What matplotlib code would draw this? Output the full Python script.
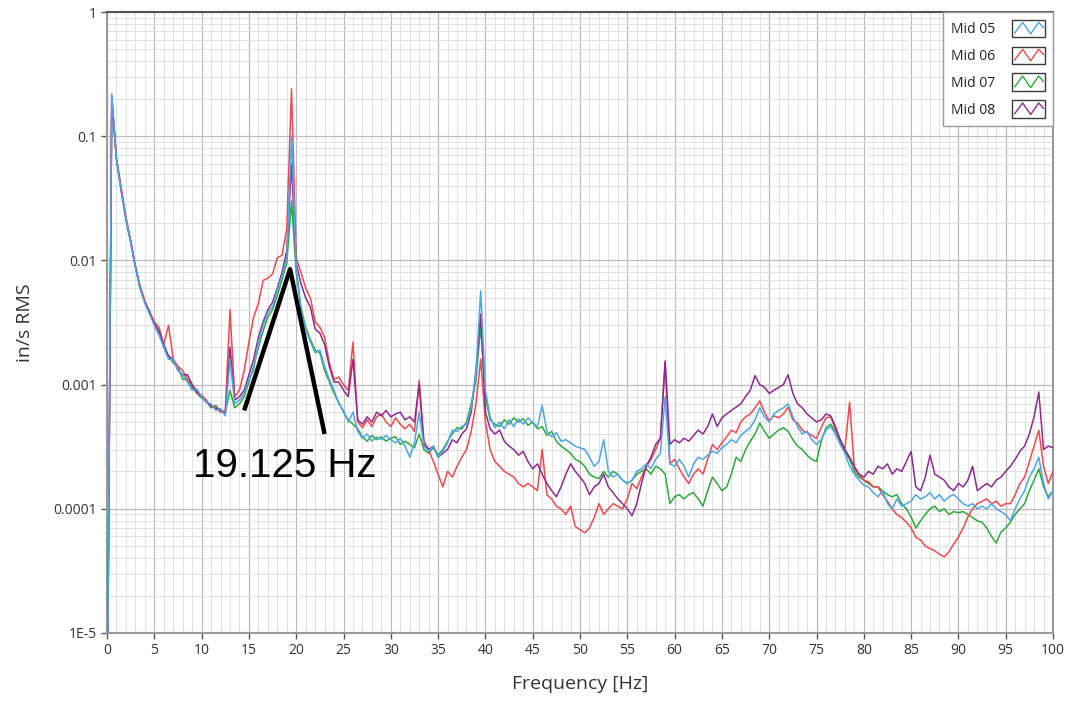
import numpy as np
import matplotlib
matplotlib.use("Agg")
import matplotlib.pyplot as plt
from matplotlib.legend_handler import HandlerBase
from matplotlib.patches import Rectangle
from matplotlib.lines import Line2D
from matplotlib.ticker import MultipleLocator, LogLocator, NullFormatter

# spectrum sampled every 0.5 Hz, 0..100 Hz
freq = np.arange(0, 100.5, 0.5)

mid05 = [
    1e-6, 0.22, 0.065, 0.036, 0.022, 0.014, 0.0088, 0.0060, 0.0045, 0.0037,
    0.0030, 0.0025, 0.0020, 0.0016, 0.0016, 0.0013, 0.0012, 0.00105, 0.0009, 0.00092,
    0.0008, 0.00072, 0.0007, 0.00062, 0.00064, 0.00056, 0.0016, 0.0007, 0.00075, 0.00085,
    0.0011, 0.0013, 0.0022, 0.0030, 0.0038, 0.0042, 0.0058, 0.0075, 0.0105, 0.10,
    0.009, 0.004, 0.0028, 0.0022, 0.0018, 0.0019, 0.0014, 0.0011, 0.0009, 0.0007,
    0.00062, 0.0005, 0.0006, 0.00042, 0.00037, 0.0004, 0.00035, 0.00038, 0.00036, 0.00039,
    0.00036, 0.00034, 0.00037, 0.00032, 0.00026, 0.00034, 0.0006, 0.00032, 0.00029, 0.00032,
    0.00026, 0.00029, 0.00034, 0.00043, 0.00042, 0.00046, 0.00048, 0.00065, 0.0012, 0.0057,
    0.0009, 0.00055, 0.00045, 0.0005, 0.00044, 0.00052, 0.00046, 0.00053, 0.00048, 0.00054,
    0.00049, 0.00046, 0.00068, 0.00042, 0.00038, 0.00041, 0.00035, 0.00036, 0.00034, 0.00032,
    0.00031, 0.0003, 0.00026, 0.00022, 0.00024, 0.00036, 0.0002, 0.00018, 0.00019, 0.00017,
    0.00016, 0.00017, 0.0002, 0.00021, 0.00023, 0.00021, 0.00025, 0.00028, 0.0008, 0.00023,
    0.00022, 0.00025, 0.00022, 0.00018, 0.00023, 0.00026, 0.00025, 0.00027, 0.00029, 0.00028,
    0.00031, 0.00033, 0.00036, 0.00034, 0.00039, 0.00042, 0.00045, 0.00052, 0.00065, 0.00055,
    0.0005, 0.00058, 0.00062, 0.00065, 0.0007, 0.00055, 0.00046, 0.0004, 0.00042, 0.00036,
    0.00033, 0.00036, 0.00043, 0.00046, 0.0004, 0.00033, 0.00028, 0.00022, 0.00019, 0.00017,
    0.000155, 0.00015, 0.000135, 0.000125, 0.00014, 0.00011, 0.0001, 0.00012, 0.000105, 0.00011,
    0.000115, 0.00013, 0.00012, 0.000125, 0.000135, 0.00012, 0.00013, 0.000115, 0.000125, 0.00013,
    0.00012, 0.00011, 0.000105, 0.00011, 0.0001, 0.000105, 0.0001, 0.00011, 0.0001, 0.000095,
    0.00009, 0.00008, 0.0001, 0.00012, 0.00014, 0.00018, 0.00021, 0.00026, 0.00016, 0.00012,
    0.00014,
]

mid06 = [
    1e-6, 0.2, 0.066, 0.038, 0.022, 0.0145, 0.009, 0.0062, 0.0047, 0.0038,
    0.0032, 0.0029, 0.0021, 0.003, 0.0016, 0.0014, 0.0013, 0.0011, 0.001, 0.00085,
    0.00082, 0.00075, 0.00066, 0.00066, 0.0006, 0.00062, 0.004, 0.0008, 0.0009, 0.0013,
    0.0022, 0.0035, 0.0045, 0.0069, 0.0072, 0.0078, 0.0105, 0.011, 0.018, 0.24,
    0.0105, 0.008, 0.006, 0.005, 0.0032, 0.0029, 0.0024, 0.0015, 0.0011, 0.00115,
    0.001, 0.0009, 0.0022, 0.0005, 0.00045, 0.00052, 0.00046, 0.00055, 0.00058, 0.0005,
    0.00046, 0.00054, 0.00048, 0.00044, 0.00048, 0.00042, 0.00108, 0.00035, 0.0003, 0.00024,
    0.00019, 0.00015, 0.0002, 0.00018, 0.00022, 0.00026, 0.0003, 0.00042, 0.0007, 0.0016,
    0.0005, 0.0003, 0.00024, 0.00022, 0.0002, 0.00019, 0.00018, 0.00016, 0.00015, 0.00016,
    0.00015, 0.00014, 0.0003, 0.00013, 0.00012, 0.000105, 0.0001, 0.00009, 0.000105, 0.000072,
    0.000068, 0.000064, 0.00007, 0.000085, 0.00011, 0.00009, 0.0001, 0.00011, 0.000105, 0.0001,
    0.00012, 0.00016, 0.000145, 0.00018, 0.00022, 0.00025, 0.0003, 0.00037, 0.0015, 0.00023,
    0.00025, 0.00021, 0.00018, 0.00016, 0.00019, 0.00021, 0.00019, 0.00025, 0.00033, 0.0003,
    0.00034, 0.00038, 0.00043, 0.00041, 0.0005, 0.00055, 0.00058, 0.00065, 0.00074, 0.0006,
    0.00051, 0.00056, 0.00054, 0.00058, 0.00066, 0.00052, 0.00049, 0.00043, 0.00041, 0.00039,
    0.00037, 0.00045, 0.00054, 0.00055, 0.00044, 0.00036, 0.0003, 0.00072, 0.00021, 0.00019,
    0.00017, 0.000165, 0.00015, 0.00015, 0.00013, 0.000115, 0.0001, 0.00009, 0.000085, 0.000078,
    0.00007, 0.000059, 0.000056, 0.00005, 0.000048, 0.000046, 0.000043, 0.000041, 0.000045, 0.000052,
    0.000059, 0.00007, 0.000086, 0.0001, 0.00011, 0.000115, 0.00012, 0.00011, 0.000115, 0.000105,
    0.00011, 0.00011, 0.00013, 0.00016, 0.00018, 0.00024, 0.00032, 0.00043, 0.00022, 0.00016,
    0.0002,
]

mid07 = [
    1e-6, 0.2, 0.064, 0.036, 0.021, 0.014, 0.0087, 0.0059, 0.0046, 0.0039,
    0.0031, 0.0026, 0.002, 0.0017, 0.0015, 0.0014, 0.0011, 0.0011, 0.00095, 0.00085,
    0.00078, 0.00074, 0.00065, 0.00068, 0.00061, 0.0006, 0.0009, 0.00065, 0.0007, 0.0008,
    0.00105, 0.0014, 0.002, 0.0027, 0.0035, 0.004, 0.0052, 0.007, 0.0095, 0.03,
    0.008, 0.0042, 0.0029, 0.0023, 0.0019, 0.0018, 0.0013, 0.00105, 0.00085, 0.00072,
    0.0006, 0.00052, 0.00048, 0.00044, 0.00038, 0.00035, 0.00039, 0.00036, 0.00038, 0.00035,
    0.00037, 0.00038, 0.00033, 0.00035, 0.00033, 0.00031, 0.0004, 0.0003, 0.00028, 0.00031,
    0.00027, 0.0003, 0.00035, 0.0004, 0.00045, 0.00044, 0.0005, 0.0007, 0.00108, 0.003,
    0.0008, 0.00052, 0.00048, 0.00046, 0.00052, 0.00048, 0.00054, 0.0005, 0.00053, 0.00047,
    0.0005, 0.00044, 0.00046, 0.00039, 0.00042, 0.00035, 0.00032, 0.0003, 0.00028, 0.00025,
    0.00024, 0.00022, 0.00019, 0.00018, 0.000175, 0.0002, 0.00018, 0.0002, 0.00019, 0.00017,
    0.00016, 0.00017, 0.00019, 0.0002, 0.00021, 0.00019, 0.00022, 0.00021, 0.00019, 0.00011,
    0.000125, 0.00013, 0.00012, 0.00013, 0.000135, 0.00012, 0.000105, 0.00014, 0.00018, 0.00016,
    0.00014, 0.00015, 0.00019, 0.00026, 0.00024, 0.0003, 0.00035, 0.0004, 0.00049, 0.00042,
    0.00037, 0.0004, 0.00043, 0.00045, 0.00042, 0.00036, 0.00032, 0.0003, 0.00027, 0.00025,
    0.00024, 0.00035, 0.00045, 0.00048, 0.00042, 0.00034, 0.00029, 0.00025, 0.0002, 0.00018,
    0.00017, 0.00016, 0.00015, 0.00015, 0.00014, 0.00013, 0.000125, 0.00013, 0.00011, 0.0001,
    0.000086, 0.00007, 0.00008, 0.00009, 0.0001, 0.000105, 0.000095, 0.0001, 0.00009, 0.000095,
    0.000093, 0.000095, 0.00009, 0.000085, 0.00008, 0.000078, 0.00007, 0.00006, 0.000053, 0.000065,
    0.00007, 0.000078, 0.00009, 0.0001, 0.00011, 0.00014, 0.00017, 0.00021, 0.00015, 0.000125,
    0.00014,
]

mid08 = [
    1e-6, 0.21, 0.066, 0.037, 0.022, 0.0142, 0.0089, 0.0061, 0.0046, 0.0038,
    0.0031, 0.0027, 0.0021, 0.0017, 0.0016, 0.0013, 0.0012, 0.0012, 0.001, 0.00088,
    0.0008, 0.00072, 0.00068, 0.00064, 0.00063, 0.00058, 0.002, 0.00075, 0.0008, 0.0009,
    0.0012, 0.0016, 0.0024, 0.0032, 0.004, 0.0046, 0.006, 0.008, 0.012, 0.06,
    0.0095, 0.0065, 0.005, 0.0042, 0.0028, 0.0026, 0.0021, 0.0014, 0.00105, 0.00105,
    0.0009, 0.0008, 0.0016, 0.00052, 0.00048, 0.00055, 0.0005, 0.0006, 0.00056, 0.00062,
    0.00055, 0.00058, 0.0006, 0.00052, 0.00055, 0.0005, 0.001, 0.00033, 0.0003, 0.00032,
    0.00026, 0.00028, 0.0003, 0.00036, 0.00034, 0.0004, 0.00044, 0.0006, 0.0013, 0.0037,
    0.0006, 0.00044, 0.0004, 0.00043, 0.00035, 0.00032, 0.0003, 0.00027, 0.00029, 0.00024,
    0.00021, 0.00023, 0.00019, 0.00016, 0.00014, 0.000125, 0.00015, 0.00019, 0.00023, 0.0002,
    0.00018, 0.00016, 0.00013, 0.00015, 0.00016, 0.00019, 0.00015, 0.000135, 0.00012, 0.00011,
    0.0001, 0.000088, 0.00011, 0.00016, 0.00022, 0.00026, 0.00033, 0.00037, 0.00155, 0.00033,
    0.00036, 0.00034, 0.00037, 0.00035, 0.00039, 0.00043, 0.0004, 0.00046, 0.00058, 0.00046,
    0.00054, 0.00058, 0.00062, 0.00066, 0.0007, 0.0008, 0.0009, 0.00118, 0.001, 0.00095,
    0.00085, 0.0009, 0.00095, 0.001, 0.0012, 0.00085, 0.0007, 0.00065, 0.00058, 0.00054,
    0.0005, 0.00052, 0.00058, 0.00056, 0.00046, 0.00036, 0.0003, 0.00026, 0.00022, 0.00019,
    0.00018, 0.0002, 0.00019, 0.00022, 0.00021, 0.00023, 0.00019, 0.00021, 0.0002, 0.00024,
    0.00029, 0.00015, 0.00014, 0.00018, 0.00027, 0.00019, 0.00018, 0.00017, 0.00015, 0.00014,
    0.00016, 0.00015, 0.00017, 0.00022, 0.00014, 0.00015, 0.00016, 0.00015, 0.00017, 0.00018,
    0.0002, 0.00022, 0.00025, 0.00029, 0.00032, 0.0004, 0.00055, 0.00087, 0.0003, 0.00032,
    0.00031,
]

labels = ["Mid 05", "Mid 06", "Mid 07", "Mid 08"]
colors = ["#4ea6e6", "#ec4a4e", "#2fa83a", "#8e2a8e"]

# annotation triangle (Hz, in/s RMS) and its label
peak_x = [14.5, 19.35, 23.0]
peak_y = [6.2e-4, 8.5e-3, 4.0e-4]
peak_text = "19.125 Hz"


class BoxZigzag(HandlerBase):
    # LabVIEW style legend swatch: framed box with a zigzag line
    def create_artists(self, legend, orig, xd, yd, w, h, fontsize, trans):
        box = Rectangle((-xd, -yd), w, h, facecolor="white",
                        edgecolor="#3a3a3a", lw=1.0, transform=trans)
        xs = [-xd + w * t for t in (0.08, 0.32, 0.56, 0.8, 0.94)]
        ys = [-yd + h * t for t in (0.25, 0.85, 0.2, 0.85, 0.55)]
        zig = Line2D(xs, ys, color=orig.get_color(), lw=1.0, transform=trans)
        return [box, zig]


def main():
    fig = plt.figure(figsize=(10.66, 7.02), dpi=100)
    ax = fig.add_axes([0.1004, 0.0983, 0.8874, 0.8846])

    series = [mid05, mid06, mid07, mid08]
    handles = [None] * 4
    for i in [2, 1, 3, 0]:
        h, = ax.plot(freq, series[i], color=colors[i], lw=1.1, label=labels[i], zorder=3)
        handles[i] = h

    ax.set_yscale("log")
    ax.set_xlim(0, 100)
    ax.set_ylim(1e-5, 1)

    ax.xaxis.set_major_locator(MultipleLocator(5))
    ax.xaxis.set_minor_locator(MultipleLocator(1))
    ax.set_yticks([1e-5, 1e-4, 1e-3, 1e-2, 1e-1, 1])
    ax.set_yticklabels(["1E-5", "0.0001", "0.001", "0.01", "0.1", "1"])
    ax.yaxis.set_minor_locator(LogLocator(base=10, subs=np.arange(2, 10)))
    ax.yaxis.set_minor_formatter(NullFormatter())

    ax.grid(which="major", color="#bcbcbc", lw=0.9)
    ax.grid(which="minor", color="#e2e2e2", lw=0.7)
    ax.set_axisbelow(True)

    ax.tick_params(which="major", length=4, width=1, color="#555555",
                   labelsize=10, labelcolor="#333333")
    ax.tick_params(which="minor", length=0)
    for lab in ax.get_xticklabels() + ax.get_yticklabels():
        lab.set_family("Open Sans")

    for side in ["left", "bottom", "right"]:
        ax.spines[side].set_color("#9a9a9a")
        ax.spines[side].set_linewidth(1.5)
    ax.spines["top"].set_color("#555555")
    ax.spines["top"].set_linewidth(1.5)

    ax.set_xlabel("Frequency [Hz]", fontsize=14, family="Open Sans",
                  color="#333333", labelpad=12)
    ax.set_ylabel("in/s RMS", fontsize=14, family="Open Sans",
                  color="#333333", labelpad=14)

    ax.plot(peak_x, peak_y, color="black", lw=3.2, zorder=5, solid_capstyle="butt")
    ax.text(9.1, 1.8e-4, peak_text, fontsize=29, family="Liberation Sans",
            color="black", va="baseline", ha="left", zorder=6)

    leg = ax.legend(handles=handles, labels=labels, loc="upper right",
                    borderaxespad=0.0, markerfirst=False, fontsize=10,
                    handler_map={Line2D: BoxZigzag()},
                    handlelength=2.4, handleheight=1.6, labelspacing=0.65,
                    handletextpad=1.2, borderpad=0.55, fancybox=False,
                    framealpha=1.0, edgecolor="#9a9a9a")
    for t in leg.get_texts():
        t.set_family("Open Sans")
        t.set_color("#222222")

    fig.savefig("out.png", dpi=100)


if __name__ == "__main__":
    main()
